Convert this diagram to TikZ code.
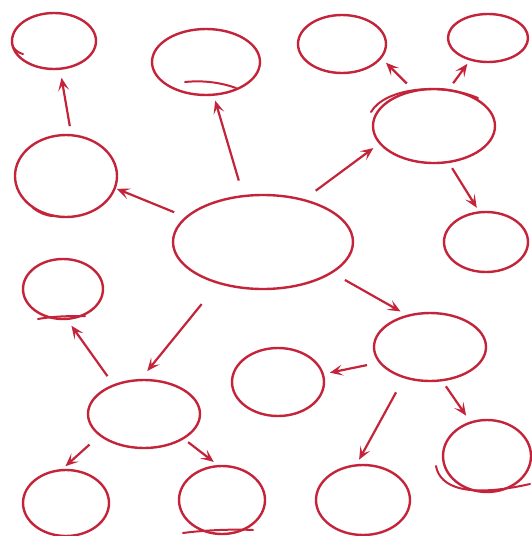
\documentclass[tikz,border=0pt]{standalone}
\usetikzlibrary{shapes.geometric,arrows.meta}
\definecolor{penred}{RGB}{196,36,58}
\begin{document}
\begin{tikzpicture}[x=1pt,y=-1pt,
  bubble/.style 2 args={ellipse, draw=penred, line width=2.4pt, inner sep=0pt, minimum width=#1, minimum height=#2},
  stroke/.style={penred, line width=2pt, line cap=round},
  link/.style={penred, line width=2.2pt, -{Stealth[length=13pt,width=11pt,inset=6pt]}}]
\useasboundingbox (0,0) rectangle (532,536);
% bubbles
\node[bubble={84pt}{56pt}] (tl) at (54,41) {};
\node[bubble={108pt}{66pt}] (tc) at (206,62) {};
\node[bubble={88pt}{58pt}] (tr1) at (342,44) {};
\node[bubble={80pt}{48pt}] (tr2) at (488,38) {};
\node[bubble={122pt}{74pt}] (ru) at (434,126) {};
\node[bubble={102pt}{82pt}] (lu) at (66,176) {};
\node[bubble={180pt}{94pt}] (hub) at (263,242) {};
\node[bubble={84pt}{60pt}] (rm) at (486,242) {};
\node[bubble={80pt}{60pt}] (lm) at (63,289) {};
\node[bubble={112pt}{68pt}] (rl) at (430,347) {};
\node[bubble={92pt}{68pt}] (mid) at (278,382) {};
\node[bubble={112pt}{68pt}] (ll) at (144,414) {};
\node[bubble={88pt}{72pt}] (rb) at (487,456) {};
\node[bubble={86pt}{66pt}] (bl) at (66,503) {};
\node[bubble={86pt}{68pt}] (bc1) at (222,500) {};
\node[bubble={94pt}{70pt}] (bc2) at (363,500) {};
% pen overlaps
\draw[stroke] (371,112) .. controls (385,88) and (440,82) .. (478,98);
\draw[stroke] (185,82) .. controls (205,80) and (222,83) .. (236,88);
\draw[stroke] (13,47) .. controls (16,51) and (19,53) .. (23,54);
\draw[stroke] (33,208) .. controls (40,213) and (46,216) .. (54,216);
\draw[stroke] (38,319) .. controls (55,316) and (72,316) .. (85,316);
\draw[stroke] (183,533) .. controls (205,530) and (235,529) .. (253,530);
\draw[stroke] (436,466) .. controls (440,488) and (468,498) .. (530,484);
% arrows
\draw[link, shorten <=15pt, shorten >=5pt] (hub.113) -- (tc.-77);
\draw[link, shorten <=12pt, shorten >=1pt] (hub.162) -- (lu.-14);
\draw[link, shorten <=14pt, shorten >=7pt] (hub.46) -- (ru.-162);
\draw[link, shorten <=8pt, shorten >=8pt] (lu.83) -- (tl.-78);
\draw[link, shorten <=9pt, shorten >=6pt] (ru.120) -- (tr1.-20);
\draw[link, shorten <=7pt, shorten >=4pt] (ru.68) -- (tr2.-129);
\draw[link, shorten <=6pt, shorten >=4pt] (ru.-68) -- (rm.103);
\draw[link, shorten <=14pt, shorten >=7pt] (hub.-24) -- (rl.126);
\draw[link, shorten <=26pt, shorten >=10pt] (hub.-137) -- (ll.95);
\draw[link, shorten <=12pt, shorten >=6pt] (rl.-163) -- (mid.10);
\draw[link, shorten <=16pt, shorten >=5pt] (rl.-130) -- (bc2.100);
\draw[link, shorten <=6pt, shorten >=7pt] (rl.-70) -- (rb.116);
\draw[link, shorten <=10pt, shorten >=7pt] (ll.136) -- (lm.-82);
\draw[link, shorten <=13pt, shorten >=4pt] (ll.-154) -- (bl.96);
\draw[link, shorten <=5pt, shorten >=5pt] (ll.-32) -- (bc1.97);
\end{tikzpicture}
\end{document}
